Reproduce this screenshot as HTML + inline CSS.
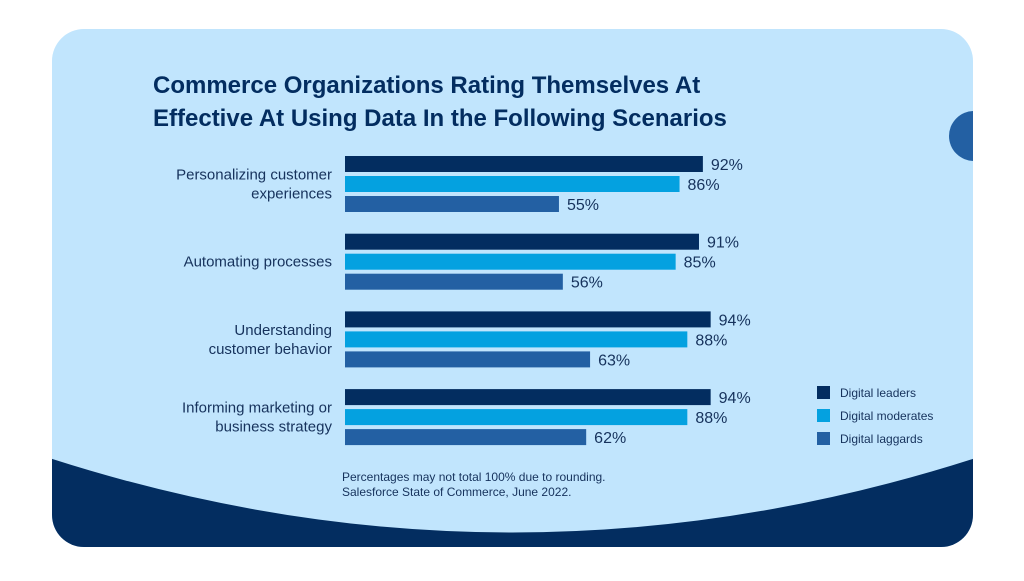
<!DOCTYPE html>
<html><head><meta charset="utf-8"><style>
body{margin:0;width:1024px;height:576px;background:#fff;overflow:hidden;font-family:"Liberation Sans",sans-serif}
</style></head><body>
<svg width="1024" height="576" xmlns="http://www.w3.org/2000/svg">
<defs><clipPath id="cc"><rect x="52" y="29" width="921" height="518" rx="32"/></clipPath></defs>
<g clip-path="url(#cc)">
<rect x="52" y="29" width="921" height="518" fill="#c1e5fd"/>
<path d="M40 455 Q512 610 985 455 L985 560 L40 560Z" fill="#032d60"/>
<circle cx="974" cy="136" r="25" fill="#2360a3"/>
</g>
<g fill="#032d60" font-weight="bold" font-size="24">
<text x="153" y="93">Commerce Organizations Rating Themselves At</text>
<text x="153" y="126">Effective At Using Data In the Following Scenarios</text>
</g>
<g id="bars"></g>
<g font-size="12" fill="#16325c">
<text x="342" y="481">Percentages may not total 100% due to rounding.</text>
<text x="342" y="496">Salesforce State of Commerce, June 2022.</text>
</g>
<g id="legend" font-size="12" fill="#16325c"></g>
</svg>
<script>
const categories=[["Personalizing customer","experiences"],["Automating processes"],["Understanding","customer behavior"],["Informing marketing or","business strategy"]];
const seriesNames=["Digital leaders","Digital moderates","Digital laggards"];
const leaders=[92,91,94,94];
const moderates=[86,85,88,88];
const laggards=[55,56,63,62];
const colors=["#032d60","#04a1e0","#2360a3"];
const NS="http://www.w3.org/2000/svg";
const x0=345, pxPer=3.89, g0=164, gStep=77.7, bStep=20, bh=16;
const xs=v=>x0+v*pxPer;
const bars=document.getElementById("bars");
function mk(tag,attrs,txt){const e=document.createElementNS(NS,tag);for(const k in attrs)e.setAttribute(k,attrs[k]);if(txt!=null)e.textContent=txt;return e;}
const series=[leaders,moderates,laggards];
categories.forEach((cat,i)=>{
  const cy=g0+i*gStep+bStep;
  const lab=mk("text",{x:332,"text-anchor":"end","font-size":15,fill:"#16325c"});
  
  
  const n=cat.length;
  cat.forEach((ln,j)=>{const t=mk("tspan",{x:332,y:cy+5+(j-(n-1)/2)*19},ln);lab.appendChild(t);});
  bars.appendChild(lab);
  series.forEach((s,k)=>{
    const y=g0+i*gStep+k*bStep;
    const r=mk("rect",{x:x0,y:y-bh/2,width:xs(s[i])-x0,height:bh,fill:colors[k]});
    
    
    bars.appendChild(r);
    const t=mk("text",{x:xs(s[i])+8,y:y+6,"font-size":16,fill:"#16325c"},s[i]+"%");
    
    
    bars.appendChild(t);
  });
});
const lg=document.getElementById("legend");
seriesNames.forEach((nm,k)=>{
  const y=386+k*23;
  const r=mk("rect",{x:817,y:y,width:13,height:13,fill:colors[k]});
  
  
  lg.appendChild(r);
  const t=mk("text",{x:840,y:y+11},nm);
  
  
  lg.appendChild(t);
});
</script>
</body></html>
